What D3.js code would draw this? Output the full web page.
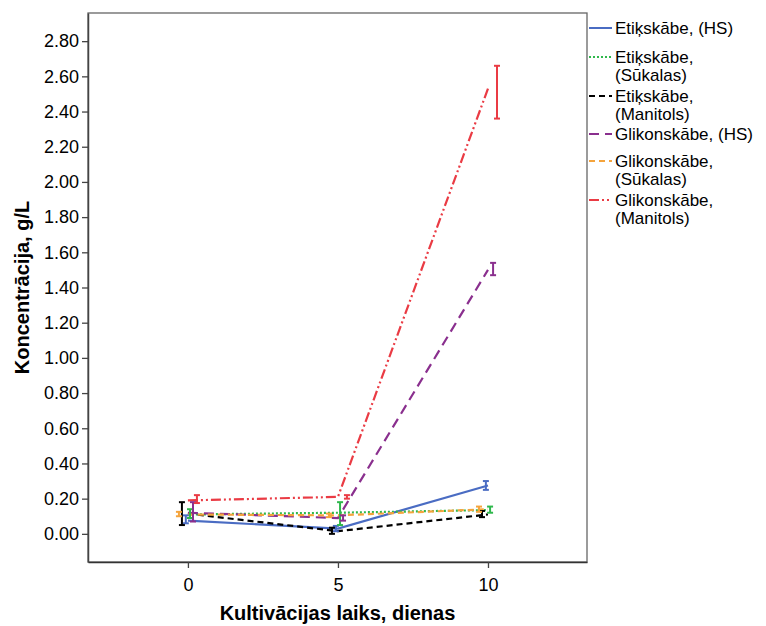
<!DOCTYPE html>
<html>
<head>
<meta charset="utf-8">
<script src="https://cdn.jsdelivr.net/npm/d3@7"></script>
<style>
  body { margin: 0; background: #fff; }
  text { font-family: "Liberation Sans", Arial, sans-serif; }
</style>
</head>
<body>
<svg id="chart"></svg>
<script>
const days = [0, 5, 10];
const yTicks = [0, 0.2, 0.4, 0.6, 0.8, 1.0, 1.2, 1.4, 1.6, 1.8, 2.0, 2.2, 2.4, 2.6, 2.8];

const seriesNames = [
    ["Etiķskābe, (HS)"],
    ["Etiķskābe,", "(Sūkalas)"],
    ["Etiķskābe,", "(Manitols)"],
    ["Glikonskābe, (HS)"],
    ["Glikonskābe,", "(Sūkalas)"],
    ["Glikonskābe,", "(Manitols)"]
];

// means and error bar ends for each series, days 0, 5, 10
const etikHS = [0.075, 0.03, 0.275];
const etikHSLow = [0.06, 0.015, 0.25];
const etikHSHigh = [0.105, 0.045, 0.30];

const etikSuk = [0.11, 0.12, 0.135];
const etikSukLow = [0.09, 0.05, 0.12];
const etikSukHigh = [0.14, 0.18, 0.155];

const etikMan = [0.115, 0.015, 0.11];
const etikManLow = [0.05, 0.0, 0.095];
const etikManHigh = [0.18, 0.035, 0.13];

const glikHS = [0.12, 0.09, 1.50];
const glikHSLow = [0.07, 0.075, 1.47];
const glikHSHigh = [0.18, 0.105, 1.54];

const glikSuk = [0.11, 0.105, 0.14];
const glikSukLow = [0.10, 0.095, 0.125];
const glikSukHigh = [0.125, 0.115, 0.155];

const glikMan = [0.19, 0.21, 2.53];
const glikManLow = [0.175, 0.20, 2.36];
const glikManHigh = [0.22, 0.22, 2.66];

const width = 766;
const height = 626;
const plotLeft = 88, plotRight = 587, plotTop = 13, plotBottom = 562;

const series = [
    {name: seriesNames[0], mean: etikHS, low: etikHSLow, high: etikHSHigh, color: '#4a6cc3', dash: null, dodge: -0.07},
    {name: seriesNames[1], mean: etikSuk, low: etikSukLow, high: etikSukHigh, color: '#2fb84c', dash: '2,2', dodge: 0.07},
    {name: seriesNames[2], mean: etikMan, low: etikManLow, high: etikManHigh, color: '#000000', dash: '6,4', dodge: -0.2},
    {name: seriesNames[3], mean: glikHS, low: glikHSLow, high: glikHSHigh, color: '#8a2f8e', dash: '10,6', dodge: 0.17},
    {name: seriesNames[4], mean: glikSuk, low: glikSukLow, high: glikSukHigh, color: '#f5a43c', dash: '6,4', dodge: -0.3},
    {name: seriesNames[5], mean: glikMan, low: glikManLow, high: glikManHigh, color: '#ea3b44', dash: '10,3,2,3,2,3', dodge: 0.3}
];

let svg = d3.select('#chart').attr('width', width).attr('height', height);

let xScale = d3.scaleLinear().domain([-3.33, 13.3]).range([plotLeft, plotRight]);
let yScale = d3.scaleLinear().domain([-0.16, 2.96]).range([plotBottom, plotTop]);

// frame
svg.append('rect')
    .attr('x', plotLeft).attr('y', plotTop)
    .attr('width', plotRight - plotLeft).attr('height', plotBottom - plotTop)
    .attr('fill', 'none').attr('stroke', '#666').attr('stroke-width', 1.3);

let xAxis = d3.axisBottom(xScale).tickValues(days).tickSize(6).tickSizeOuter(0).tickPadding(10);
let gx = svg.append('g')
    .attr('transform', 'translate(0,' + plotBottom + ')')
    .call(xAxis);
gx.select('.domain').attr('stroke', '#333').attr('stroke-width', 1.5);
gx.selectAll('.tick line').attr('stroke', '#444').attr('stroke-width', 1.3);
gx.selectAll('.tick text').style('font-size', '18px').attr('fill', '#000');

let yAxis = d3.axisLeft(yScale).tickValues(yTicks).tickSize(6).tickSizeOuter(0).tickPadding(3)
    .tickFormat(d3.format('.2f'));
let gy = svg.append('g')
    .attr('transform', 'translate(' + plotLeft + ',0)')
    .call(yAxis);
gy.select('.domain').attr('stroke', '#444').attr('stroke-width', 1.5);
gy.selectAll('.tick line').attr('stroke', '#444').attr('stroke-width', 1.3);
gy.selectAll('.tick text').style('font-size', '18px').attr('fill', '#000');

svg.append('text')
    .attr('x', (plotLeft + plotRight) / 2)
    .attr('y', 620)
    .attr('text-anchor', 'middle')
    .style('font-size', '20px').style('font-weight', 'bold')
    .text('Kultivācijas laiks, dienas');

svg.append('text')
    .attr('transform', 'translate(29,' + ((plotTop + plotBottom) / 2) + ') rotate(-90)')
    .attr('text-anchor', 'middle')
    .style('font-size', '20px').style('font-weight', 'bold')
    .text('Koncentrācija, g/L');

let line = d3.line()
    .x((d, i) => xScale(days[i]))
    .y(d => yScale(d));

let lines = svg.append('g');
series.forEach(s => {
    lines.append('path')
        .attr('d', line(s.mean))
        .attr('fill', 'none')
        .attr('stroke', s.color)
        .attr('stroke-width', 2.2)
        .attr('stroke-dasharray', s.dash);
});

let bars = svg.append('g');
series.forEach(s => {
    days.forEach((day, i) => {
        let x = xScale(day + s.dodge);
        let y1 = yScale(s.low[i]);
        let y2 = yScale(s.high[i]);
        bars.append('line')
            .attr('x1', x).attr('x2', x).attr('y1', y1).attr('y2', y2)
            .attr('stroke', s.color).attr('stroke-width', 2);
        [y1, y2].forEach(y => {
            bars.append('line')
                .attr('x1', x - 3).attr('x2', x + 3).attr('y1', y).attr('y2', y)
                .attr('stroke', s.color).attr('stroke-width', 2);
        });
    });
});

// legend
let legendY = [28, 57, 96, 134, 161, 200];
let legend = svg.append('g');
series.forEach((s, i) => {
    let y = legendY[i];
    legend.append('line')
        .attr('x1', 589).attr('x2', 612).attr('y1', y).attr('y2', y)
        .attr('stroke', s.color).attr('stroke-width', 2)
        .attr('stroke-dasharray', s.dash);
    s.name.forEach((t, j) => {
        legend.append('text')
            .attr('x', 615)
            .attr('y', y + 6 + j * 18)
            .style('font-size', '17px')
            .text(t);
    });
});
</script>
</body>
</html>
